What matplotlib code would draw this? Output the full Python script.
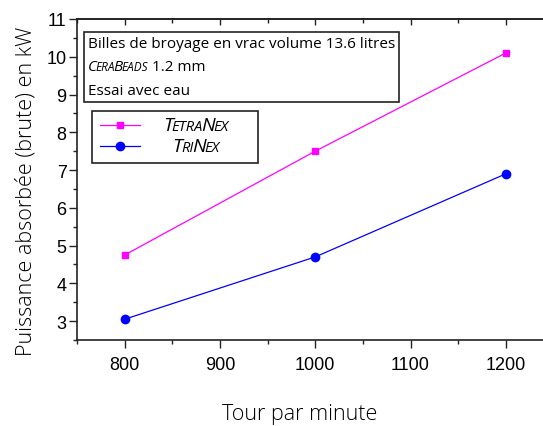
import numpy as np
import matplotlib.pyplot as plt
from matplotlib.offsetbox import TextArea, HPacker, VPacker, AnnotationBbox
from matplotlib.ticker import MultipleLocator

# Data
rpm = [800, 1000, 1200]
tetranex = [4.75, 7.5, 10.1]
trinex = [3.05, 4.7, 6.9]

box_lines = ["Billes de broyage en vrac volume 13.6 litres", "Essai avec eau"]

text_font = "Open Sans"
tick_font = "Liberation Sans"

fig = plt.figure(figsize=(5.43, 4.27), dpi=100)
ax = fig.add_axes([0.1418, 0.2014, 0.8582, 0.7518])

ax.plot(rpm, tetranex, color="#ff00ff", lw=0.9, marker="s", ms=5, label=" ")
ax.plot(rpm, trinex, color="#0000ff", lw=0.9, marker="o", ms=6, label=" ")

ax.set_xlim(750, 1239)
ax.set_ylim(2.5, 11)
ax.xaxis.set_major_locator(MultipleLocator(100))
ax.xaxis.set_minor_locator(MultipleLocator(50))
ax.yaxis.set_major_locator(MultipleLocator(1))
ax.yaxis.set_minor_locator(MultipleLocator(0.5))

ax.spines["right"].set_visible(False)
for s in ["left", "bottom", "top"]:
    ax.spines[s].set_linewidth(1.2)
    ax.spines[s].set_color("#222222")
ax.tick_params(axis="both", which="both", direction="out", width=1.0, color="#222222")
ax.tick_params(which="major", length=5.5)
ax.tick_params(which="minor", length=3)
for lab in ax.get_xticklabels() + ax.get_yticklabels():
    lab.set_fontfamily(tick_font)
    lab.set_fontsize(13)
ax.tick_params(axis="x", pad=6)
ax.tick_params(axis="y", pad=2)

# top axis: ticks pointing inward, no labels
top = ax.secondary_xaxis("top")
top.xaxis.set_major_locator(MultipleLocator(100))
top.xaxis.set_minor_locator(MultipleLocator(50))
top.tick_params(which="both", direction="in", labeltop=False, width=1.0, color="#222222")
top.tick_params(which="major", length=4)
top.tick_params(which="minor", length=3)
top.spines["top"].set_linewidth(1.2)
top.spines["top"].set_color("#222222")

ax.set_xlabel("Tour par minute", fontfamily=text_font, fontsize=15.5, fontweight=300)
ax.xaxis.set_label_coords(0.478, -0.195)
ax.set_ylabel("Puissance absorbée (brute) en kW", fontfamily=text_font, fontsize=15.5, fontweight=300)
ax.yaxis.set_label_coords(-0.086, 0.466)


def sc_parts(parts, big=11, small=8.5, style="italic"):
    # small caps: upper chars at full size, lowercase drawn as small uppercase
    boxes = []
    for txt, is_small in parts:
        boxes.append(TextArea(txt, textprops=dict(fontsize=small if is_small else big,
                                                   fontstyle=style, family=text_font)))
    return HPacker(children=boxes, align="baseline", pad=0, sep=-1)


# Info box
row1 = TextArea(box_lines[0], textprops=dict(fontsize=11, family=text_font))
row2 = HPacker(children=[sc_parts([("C", False), ("ERA", True), ("B", False), ("EADS", True)]),
                         TextArea(" 1.2 mm", textprops=dict(fontsize=11, family=text_font))],
               align="baseline", pad=0, sep=0)
row3 = TextArea(box_lines[1], textprops=dict(fontsize=11, family=text_font))
info = VPacker(children=[row1, row2, row3], align="left", pad=0, sep=6)
ab = AnnotationBbox(info, (0.0236, 0.947), xycoords="axes fraction", box_alignment=(0, 1),
                    frameon=True, pad=0.3,
                    bboxprops=dict(edgecolor="#222222", linewidth=1.2, boxstyle="square,pad=0.3"))
ax.add_artist(ab)

# Legend with handles only, labels drawn as small caps on top
leg = ax.legend(loc="upper left", bbox_to_anchor=(0.0322, 0.7134), borderaxespad=0,
                fancybox=False, edgecolor="#222222", framealpha=1,
                handlelength=2.4, handletextpad=6.4, borderpad=0.45, labelspacing=0.3,
                prop=dict(family=text_font, size=12))
leg.get_frame().set_linewidth(1.2)

lab1 = sc_parts([("T", False), ("ETRA", True), ("N", False), ("EX", True)], big=14, small=10.5)
lab2 = sc_parts([("T", False), ("RI", True), ("N", False), ("EX", True)], big=14, small=10.5)
for lab, y in [(lab1, 0.670), (lab2, 0.603)]:
    ann = AnnotationBbox(lab, (0.2554, y), xycoords="axes fraction",
                         box_alignment=(0.5, 0.5), frameon=False, pad=0)
    ann.set_zorder(10)
    ax.add_artist(ann)

fig.savefig("out.png", dpi=100)
